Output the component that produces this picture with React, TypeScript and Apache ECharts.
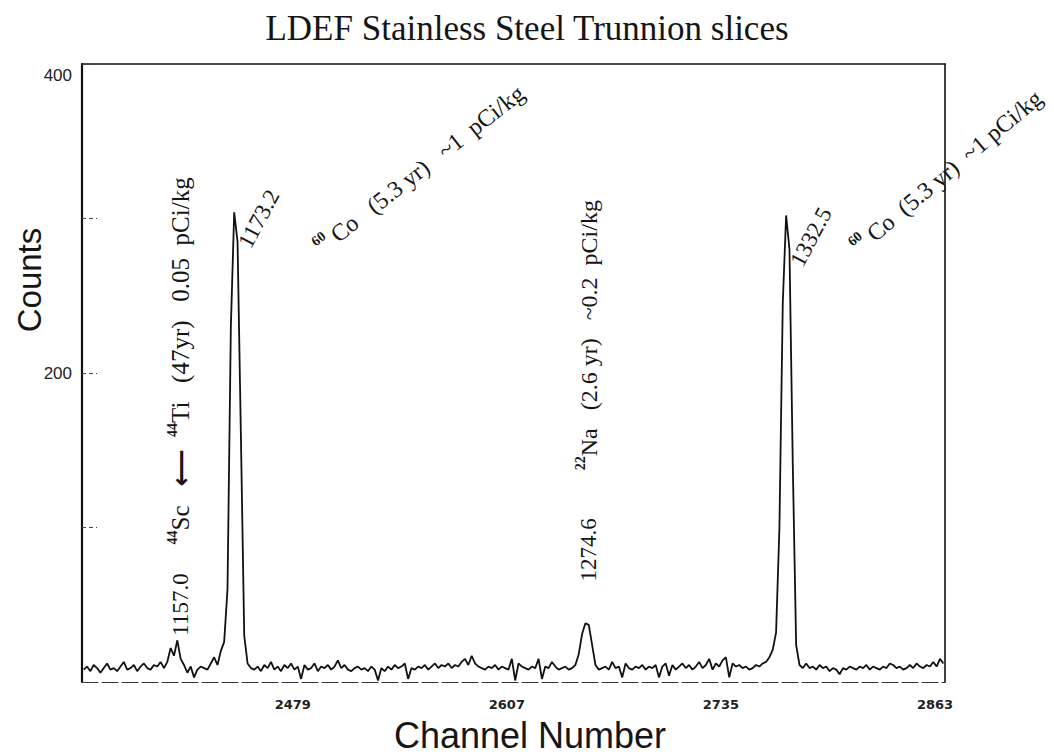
import React, { useEffect, useRef } from "react";
import * as echarts from "echarts";

// ---- Data ----
const CHANNEL_START = 2348;
const CHANNEL_STEP = 2;

// channels 2348-2396
const countsLowEdge = [8, 10, 7, 11, 9, 6, 9, 12, 8, 9, 7, 10, 13, 8, 9, 11, 7, 10, 12, 9, 8, 11, 10, 13, 9];
// channels 2398-2446 (44Sc / 1157.0 and 60Co / 1173.2)
const countsPeak1173 = [13, 22, 17, 27, 15, 11, 6, 10, 3, 8, 10, 9, 8, 12, 16, 11, 20, 26, 60, 230, 304, 285, 160, 30, 12];
// channels 2448-2640
const countsMidA = [
  9, 8, 10, 7, 11, 9, 13, 8, 10, 7,
  11, 9, 12, 8, 10, 2, 11, 8, 9, 12,
  7, 10, 9, 11, 8, 10, 14, 9, 11, 8,
  7, 9, 10, 8, 9, 7, 10, 8, 1, 9,
  7, 10, 8, 11, 9, 10, 12, 2, 9, 8,
  10, 9, 11, 8, 10, 12, 9, 11, 10, 12,
  9, 11, 10, 13, 15, 11, 17, 12, 10, 9,
  8, 10, 9, 11, 8, 10, 9, 8, 15, 1,
  12, 10, 9, 8, 10, 9, 15, 2, 10, 9,
  13, 10, 8, 9, 10, 8, 9,
];
// channels 2642-2656 (22Na / 1274.6)
const countsPeak1274 = [11, 18, 31, 38, 37, 24, 11, 8];
// channels 2658-2754
const countsMidB = [
  9, 10, 8, 13, 9, 10, 3, 12, 9, 8,
  10, 9, 11, 8, 10, 9, 11, 3, 10, 12,
  4, 11, 8, 10, 12, 9, 11, 8, 10, 13,
  9, 11, 15, 8, 12, 10, 14, 16, 3, 12,
  10, 11, 9, 10, 8, 9, 11, 10, 12,
];
// channels 2756-2778 (60Co / 1332.5)
const countsPeak1332 = [13, 16, 21, 32, 100, 245, 302, 280, 140, 24, 11, 9];
// channels 2780-2862
const countsHighEdge = [
  12, 9, 10, 8, 11, 9, 10, 7, 9, 8,
  5, 9, 8, 10, 9, 8, 10, 9, 11, 8,
  10, 9, 8, 10, 9, 12, 11, 9, 10, 8,
  9, 11, 9, 12, 10, 9, 11, 10, 13, 10,
  15, 12,
];

const xTickLabels = [2479, 2607, 2735, 2863];
const yTickLabels = [200, 400];

const TITLE = "LDEF Stainless Steel Trunnion slices";

// ---- Annotations (anchored in data coordinates) ----
const annotations = [
  { channel: 2406, count: 30, angle: 90, size: 23, text: "1157.0" },
  { channel: 2406, count: 89, angle: 90, size: 25, text: "{sup|44}Sc   {arr|⟵}  {sup|44}Ti   (47yr)   0.05  pCi/kg" },
  { channel: 2444, count: 282, angle: 62, size: 23, text: "1173.2" },
  { channel: 2488, count: 280, angle: 38, size: 24, text: "{sup|60} Co   (5.3 yr)   ~1  pCi/kg" },
  { channel: 2650, count: 65, angle: 90, size: 23, text: "1274.6" },
  { channel: 2650, count: 137, angle: 90, size: 24, text: "{sup|22}Na   (2.6 yr)   ~0.2  pCi/kg" },
  { channel: 2774, count: 270, angle: 62, size: 23, text: "1332.5" },
  { channel: 2809, count: 280, angle: 40, size: 24, text: "{sup|60} Co  (5.3 yr)  ~1 pCi/kg" },
];

const SERIF = "'Liberation Serif', 'Times New Roman', 'DejaVu Serif', serif";
const SANS = "'Liberation Sans', Arial, Helvetica, sans-serif";

export default function App() {
  const ref = useRef<HTMLDivElement>(null);

  useEffect(() => {
    document.body.style.margin = "0";
    if (!ref.current) return;
    const chart = echarts.init(ref.current, undefined, { renderer: "svg" });

    const allCounts = [
      ...countsLowEdge,
      ...countsPeak1173,
      ...countsMidA,
      ...countsPeak1274,
      ...countsMidB,
      ...countsPeak1332,
      ...countsHighEdge,
    ];
    const seriesData = allCounts.map((v, i) => [CHANNEL_START + i * CHANNEL_STEP, v]);

    const xMin = 2347;
    const xMax = 2863;

    chart.setOption({
      animation: false,
      backgroundColor: "#ffffff",
      title: {
        text: TITLE,
        left: "center",
        top: 6,
        textStyle: { fontFamily: SERIF, fontSize: 35, fontWeight: "normal", color: "#151515" },
      },
      grid: { left: 82, right: 109, top: 64, bottom: 74 },
      xAxis: [
        {
          type: "value",
          min: xMin,
          max: xMax,
          position: "bottom",
          axisLine: { show: true, onZero: false, lineStyle: { color: "#333", width: 1.2, type: [16, 4] } },
          axisTick: { show: false },
          splitLine: { show: false },
          axisLabel: {
            show: true,
            customValues: xTickLabels,
            margin: 16,
            fontFamily: "'DejaVu Sans', sans-serif",
            fontWeight: "bold",
            fontSize: 13,
            color: "#222",
            padding: [0, 20, 0, 0],
            formatter: (v: number) => String(v),
          },
        },
        {
          type: "value",
          min: xMin,
          max: xMax,
          position: "top",
          axisLine: { show: true, onZero: false, lineStyle: { color: "#111", width: 1.5 } },
          axisTick: { show: false },
          axisLabel: { show: false },
          splitLine: { show: false },
        },
      ],
      yAxis: [
        {
          type: "value",
          min: 0,
          max: 400,
          interval: 100,
          axisLine: { show: true, onZero: false, lineStyle: { color: "#111", width: 2.2 } },
          axisTick: { show: true, inside: true, length: 15, lineStyle: { color: "#444", width: 1, type: [4, 3] } },
          splitLine: { show: false },
          axisLabel: {
            margin: 10,
            fontFamily: SANS,
            fontSize: 17,
            color: "#222",
            formatter: (v: number) => {
              if (!yTickLabels.includes(v)) return "";
              return v === 400 ? "{low|" + v + "}" : String(v);
            },
            rich: {
              low: { fontFamily: SANS, fontSize: 17, color: "#222", padding: [22, 0, 0, 0] },
            },
          },
        },
        {
          type: "value",
          min: 0,
          max: 400,
          position: "right",
          axisLine: { show: true, onZero: false, lineStyle: { color: "#111", width: 1.6 } },
          axisTick: { show: false },
          axisLabel: { show: false },
          splitLine: { show: false },
        },
      ],
      series: [
        {
          type: "line",
          xAxisIndex: 0,
          yAxisIndex: 0,
          data: seriesData,
          showSymbol: false,
          symbol: "none",
          lineStyle: { color: "#111", width: 1.8 },
          clip: true,
        },
      ],
    });

    const graphics: any[] = [
      {
        type: "text",
        x: 530,
        y: 735,
        silent: true,
        style: {
          text: "Channel Number",
          fontFamily: SANS,
          fontSize: 36,
          fill: "#151515",
          align: "center",
          verticalAlign: "middle",
          textAlign: "center",
          textVerticalAlign: "middle",
        },
      },
      {
        type: "text",
        x: 29,
        y: 280,
        rotation: Math.PI / 2,
        silent: true,
        style: {
          text: "Counts",
          fontFamily: SANS,
          fontSize: 33,
          fill: "#151515",
          align: "center",
          verticalAlign: "middle",
          textAlign: "center",
          textVerticalAlign: "middle",
        },
      },
    ];

    annotations.forEach((a) => {
      const p = chart.convertToPixel({ seriesIndex: 0 }, [a.channel, a.count]) as number[];
      graphics.push({
        type: "text",
        x: p[0],
        y: p[1],
        rotation: (a.angle * Math.PI) / 180,
        silent: true,
        style: {
          text: a.text,
          fontFamily: SERIF,
          fontSize: a.size,
          lineHeight: 30,
          fill: "#151515",
          align: "left",
          verticalAlign: "middle",
          textAlign: "left",
          textVerticalAlign: "middle",
          rich: {
            sup: { fontFamily: SERIF, fontSize: 14, lineHeight: 16, verticalAlign: "top", fill: "#151515", fontWeight: "bold" },
            arr: { fontFamily: "'DejaVu Sans', sans-serif", fontSize: 26, fontWeight: "bold", fill: "#151515" },
          },
        },
      });
    });

    chart.setOption({ graphic: graphics });

    return () => {
      chart.dispose();
    };
  }, []);

  return <div ref={ref} style={{ width: 1054, height: 756 }} />;
}
